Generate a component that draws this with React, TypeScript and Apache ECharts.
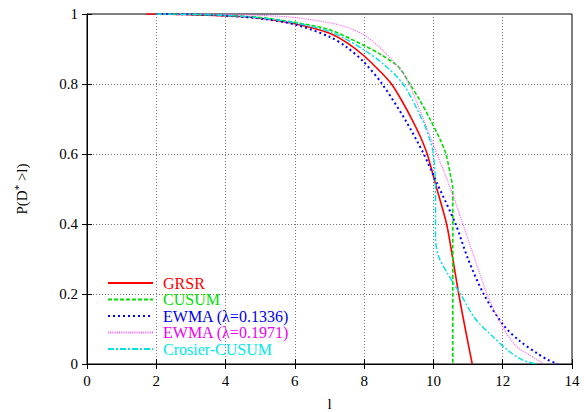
import React, { useEffect, useRef } from "react";
import * as echarts from "echarts";

const seriesNames = ["GRSR", "CUSUM", "EWMA (λ=0.1336)", "EWMA (λ=0.1971)", "Crosier-CUSUM"];
const lineColors = ["#ff0000", "#00dd00", "#0000ff", "#ff55ff", "#00e0e0"];
const textColors = ["#ff0000", "#00e000", "#0000ee", "#ee00ee", "#00e8e8"];

const grsrL = [1.7, 2, 3, 4, 5, 6, 7, 7.5, 8, 8.5, 8.79, 9.1, 9.39, 9.62, 9.82, 10.1, 10.38, 10.56, 10.73, 10.92, 11.12];
const grsrP = [1, 1, 0.998, 0.995, 0.988, 0.972, 0.945, 0.918, 0.88, 0.832, 0.8, 0.75, 0.697, 0.65, 0.6, 0.5, 0.4, 0.3, 0.2, 0.1, 0];

const cusumL = [2, 3, 4, 5, 6, 7, 8, 8.5, 9, 9.32, 9.6, 9.9, 10.2, 10.36, 10.5, 10.56, 10.56];
const cusumP = [1, 0.999, 0.996, 0.99, 0.976, 0.955, 0.91, 0.883, 0.848, 0.8, 0.755, 0.7, 0.64, 0.6, 0.535, 0.5, 0];

const ewma1L = [2, 3, 4, 5, 6, 7, 7.5, 8, 8.52, 9.19, 9.72, 10.1, 10.64, 11.0, 11.45, 12.03, 12.5, 13, 13.3, 13.6];
const ewma1P = [1, 0.999, 0.995, 0.987, 0.97, 0.935, 0.905, 0.862, 0.8, 0.697, 0.6, 0.517, 0.4, 0.3, 0.2, 0.11, 0.065, 0.03, 0.012, 0];

const ewma2L = [2, 3, 4, 5, 6, 7, 7.5, 8, 8.5, 9.05, 9.3, 9.72, 10.1, 10.5, 10.85, 11.17, 11.55, 12.03, 12.4, 12.7, 13.2];
const ewma2P = [1, 1, 0.999, 0.996, 0.99, 0.975, 0.962, 0.94, 0.9, 0.84, 0.8, 0.697, 0.6, 0.5, 0.4, 0.307, 0.2, 0.1, 0.05, 0.03, 0];

const crosierL = [2, 3, 4, 5, 6, 7, 7.5, 8, 8.5, 9.12, 9.68, 9.9, 10.0, 10.06, 10.06, 10.15, 10.4, 10.55, 10.78, 11.2, 11.73, 12.2, 12.6, 13.0];
const crosierP = [1, 0.999, 0.996, 0.989, 0.975, 0.95, 0.927, 0.897, 0.862, 0.8, 0.697, 0.64, 0.6, 0.5, 0.36, 0.307, 0.26, 0.235, 0.2, 0.13, 0.077, 0.035, 0.01, 0];

const xTicks = [0, 2, 4, 6, 8, 10, 12, 14];
const yTicks = [0, 0.2, 0.4, 0.6, 0.8, 1];

const allL = [grsrL, cusumL, ewma1L, ewma2L, crosierL];
const allP = [grsrP, cusumP, ewma1P, ewma2P, crosierP];
const dashes: any[] = ["solid", [4, 2], [2, 3], [1, 1.2], [6, 2, 2, 2]];
const widths = [1.6, 1.6, 2, 1.2, 1.4];

export default function App() {
  const ref = useRef<HTMLDivElement>(null);
  useEffect(() => {
    if (!ref.current) return;
    const chart = echarts.init(ref.current, null, { renderer: "svg" });
    const font = "Liberation Serif";
    const gridLine = { show: true, lineStyle: { color: "#777", type: [1, 2] as any, width: 1 } };
    chart.setOption({
      animation: false,
      backgroundColor: "#fff",
      grid: {
        left: 87, right: 14, top: 14, bottom: 48,
        show: true, borderColor: "#000", borderWidth: 1,
        containLabel: false, outerBoundsMode: "none",
      },
      legend: {
        orient: "vertical",
        left: 107,
        top: 275,
        padding: 0,
        itemWidth: 45,
        itemHeight: 12,
        itemGap: 0.5,
        itemStyle: { opacity: 0 },
        data: seriesNames.map((n, i) => ({ name: n, textStyle: { color: textColors[i] } })),
        textStyle: { fontFamily: font, fontSize: 16, lineHeight: 16, padding: [0, 0, 0, 5] },
      },
      xAxis: [
        {
          type: "value",
          min: 0,
          max: 14,
          interval: 2,
          name: "l",
          nameLocation: "middle",
          nameGap: 32,
          nameTextStyle: { fontFamily: font, fontSize: 15, color: "#000" },
          axisLine: { show: true, lineStyle: { color: "#000" } },
          axisTick: { show: true, inside: true, length: 5, lineStyle: { color: "#000" } },
          axisLabel: { fontFamily: font, fontSize: 15, color: "#000", margin: 9 },
          splitLine: gridLine,
        },
        {
          type: "value",
          position: "top",
          min: 0,
          max: 14,
          interval: 2,
          axisLine: { show: false },
          axisTick: { show: true, inside: true, length: 5, lineStyle: { color: "#000" } },
          axisLabel: { show: false },
          splitLine: { show: false },
        },
      ],
      yAxis: [
        {
          type: "value",
          min: 0,
          max: 1,
          interval: 0.2,
          name: "P(D{sup|*} >l)",
          nameLocation: "middle",
          nameGap: 56,
          nameRotate: 90,
          nameTextStyle: {
            fontFamily: font,
            fontSize: 15,
            color: "#000",
            rich: { sup: { fontFamily: font, fontSize: 11, verticalAlign: "top", padding: [0, 0, 8, 0], color: "#000" } },
          },
          axisLine: { show: true, lineStyle: { color: "#000" } },
          axisTick: { show: true, inside: true, length: 5, lineStyle: { color: "#000" } },
          axisLabel: { fontFamily: font, fontSize: 15, color: "#000", margin: 9, formatter: (v: number) => String(Math.round(v * 10) / 10) },
          splitLine: gridLine,
        },
        {
          type: "value",
          position: "right",
          min: 0,
          max: 1,
          interval: 0.2,
          axisLine: { show: false },
          axisTick: { show: true, inside: true, length: 5, lineStyle: { color: "#000" } },
          axisLabel: { show: false },
          splitLine: { show: false },
        },
      ],
      series: seriesNames.map((n, i) => ({
        name: n,
        type: "line",
        xAxisIndex: 0,
        yAxisIndex: 0,
        showSymbol: false,
        symbol: "none",
        smooth: 0.3,
        color: lineColors[i],
        lineStyle: { color: lineColors[i], width: widths[i], type: dashes[i] },
        data: allL[i].map((l, j) => [l, allP[i][j]]),
      })),
    });
    return () => chart.dispose();
  }, []);
  return <div ref={ref} style={{ position: "fixed", left: 0, top: 0, width: 586, height: 412 }} />;
}
